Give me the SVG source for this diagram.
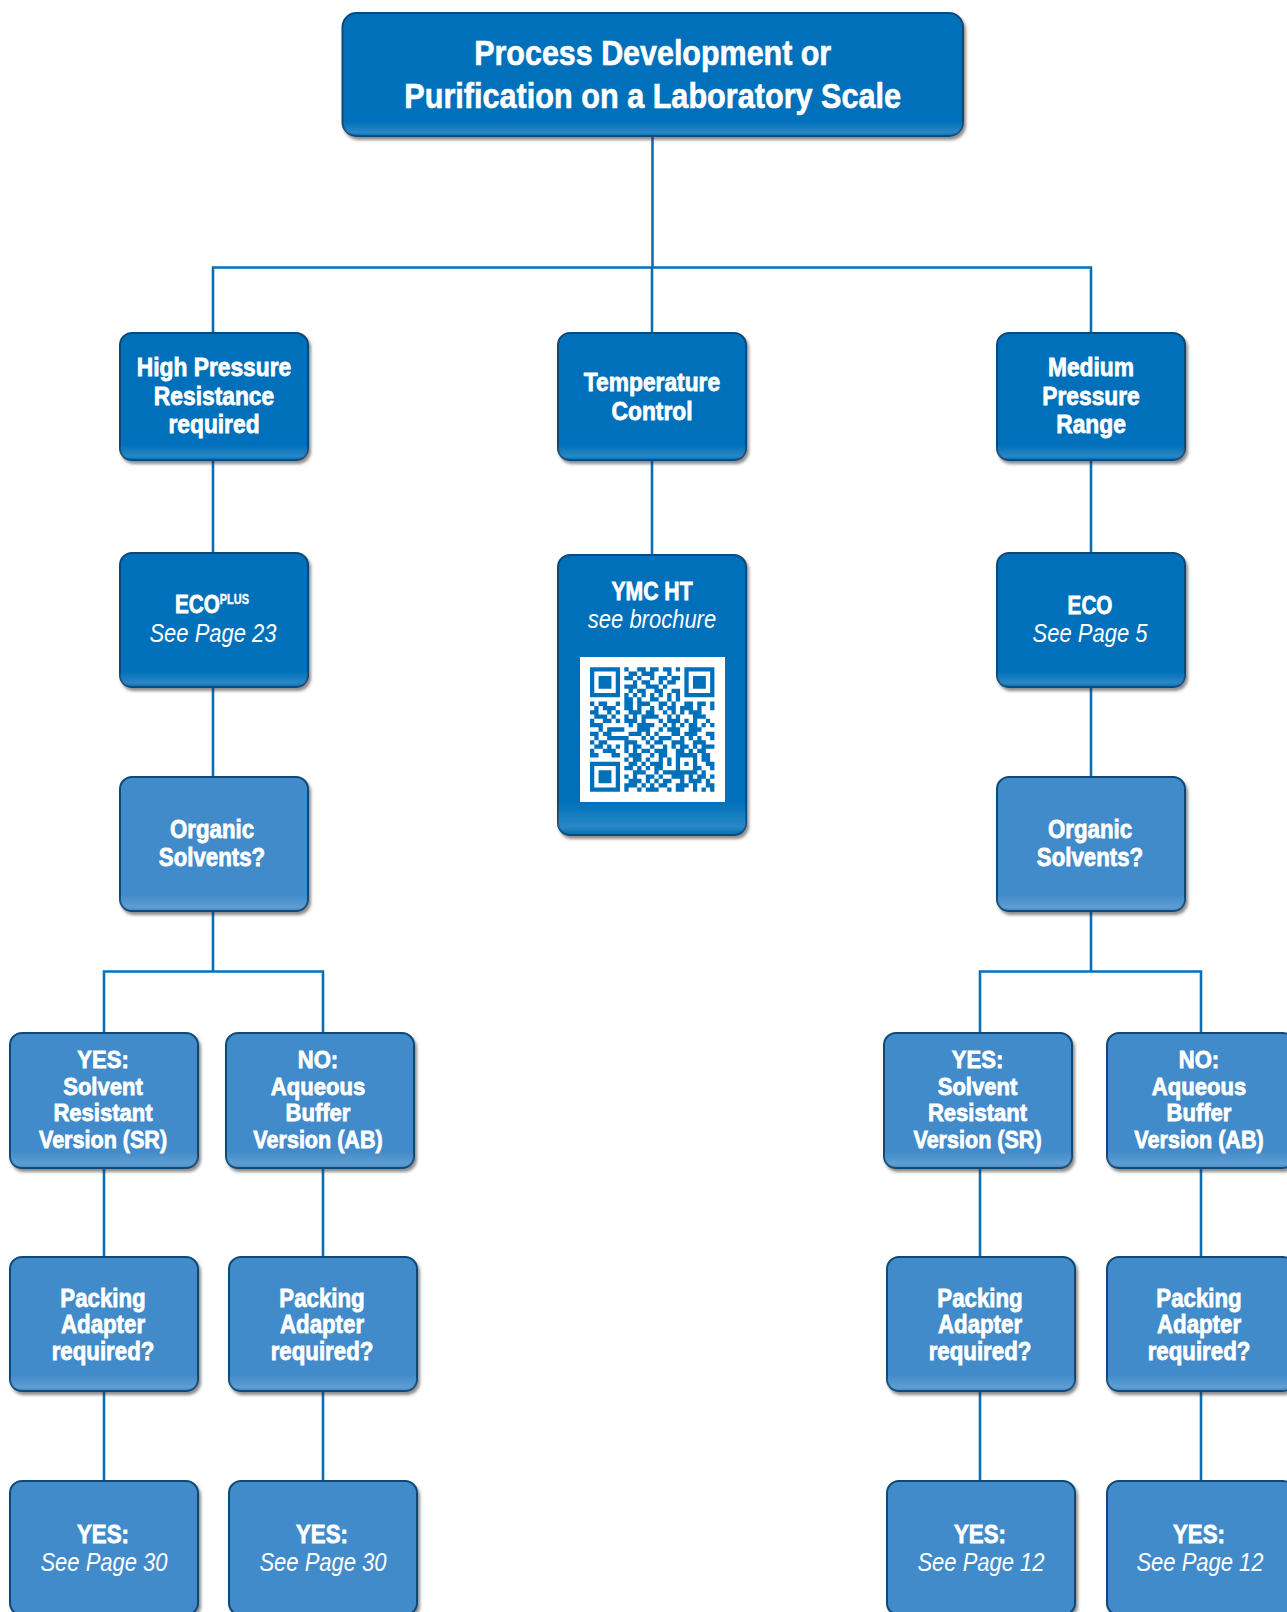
<svg xmlns="http://www.w3.org/2000/svg" width="1287" height="1612" viewBox="0 0 1287 1612">
<defs>
<filter id="sh" x="-5%" y="-5%" width="115%" height="120%">
<feDropShadow dx="2" dy="3" stdDeviation="1.5" flood-color="#333" flood-opacity="0.55"/>
</filter>
<linearGradient id="hl" x1="0" y1="0" x2="0" y2="1">
<stop offset="0.88" stop-color="#fff" stop-opacity="0"/>
<stop offset="0.97" stop-color="#fff" stop-opacity="0.16"/>
<stop offset="1" stop-color="#fff" stop-opacity="0"/>
</linearGradient>
<path id="finder" d="M0 0h7v7h-7zM1 1v5h5v-5zM2 2h3v3h-3z" fill-rule="evenodd"/>
</defs>
<style>
.bx{stroke:#0e4a78;stroke-width:2;filter:url(#sh)}
.dk{fill:#0070BA}
.lt{fill:#428BCA}
.hl{fill:url(#hl);stroke:none}
.t{font-family:"Liberation Sans",Arial,sans-serif;font-weight:bold;font-size:26.5px;fill:#fff;stroke:#fff;stroke-width:0.8;text-anchor:middle}
.s{font-size:24.5px}
.i{font-style:italic;font-weight:normal;font-size:25px;stroke-width:0}
.big{font-size:35px;stroke-width:0.6}
.sup{font-size:14px;stroke-width:0.4}
.ln{fill:none;stroke:#0b6fb8;stroke-width:2.6}
</style>
<rect width="1287" height="1612" fill="#fff"/>

<g id="connectors" class="ln">
<path d="M652.5 137V267.5"/>
<path d="M213 333V267.5H1091V333"/>
<path d="M652 267.5V333"/>
<path d="M213 460V553M652 460V555M1091 460V553"/>
<path d="M213 687V777M1091 687V777"/>
<path d="M213 911V971.5M104 1033V971.5H323V1033"/>
<path d="M1091 911V971.5M980 1033V971.5H1201V1033"/>
<path d="M104 1168V1257M323 1168V1257M980 1168V1257M1201 1168V1257"/>
<path d="M104 1391V1481M323 1391V1481M980 1391V1481M1201 1391V1481"/>
</g>

<g id="n-root">
<rect class="bx dk" x="342.5" y="13" width="620.5" height="123" rx="14"/>
<rect class="hl" x="342.5" y="13" width="620.5" height="123" rx="14"/>
<text class="t big" transform="translate(652.7 0) scale(0.87 1)" x="0" y="65">Process Development or</text>
<text class="t big" transform="translate(652.7 0) scale(0.875 1)" x="0" y="108">Purification on a Laboratory Scale</text>
</g>

<g id="n-high-pressure">
<rect class="bx dk" x="120" y="333" width="188" height="127" rx="12"/>
<rect class="hl" x="120" y="333" width="188" height="127" rx="12"/>
<text class="t" transform="translate(214 0) scale(0.86 1)" x="0" y="376">High Pressure</text>
<text class="t" transform="translate(214 0) scale(0.86 1)" x="0" y="405">Resistance</text>
<text class="t" transform="translate(214 0) scale(0.86 1)" x="0" y="433">required</text>
</g>

<g id="n-temperature">
<rect class="bx dk" x="558" y="333" width="188" height="127" rx="12"/>
<rect class="hl" x="558" y="333" width="188" height="127" rx="12"/>
<text class="t" transform="translate(652 0) scale(0.86 1)" x="0" y="391">Temperature</text>
<text class="t" transform="translate(652 0) scale(0.86 1)" x="0" y="420">Control</text>
</g>

<g id="n-medium-pressure">
<rect class="bx dk" x="997" y="333" width="188" height="127" rx="12"/>
<rect class="hl" x="997" y="333" width="188" height="127" rx="12"/>
<text class="t" transform="translate(1091 0) scale(0.86 1)" x="0" y="376">Medium</text>
<text class="t" transform="translate(1091 0) scale(0.86 1)" x="0" y="405">Pressure</text>
<text class="t" transform="translate(1091 0) scale(0.86 1)" x="0" y="433">Range</text>
</g>

<g id="n-ecoplus">
<rect class="bx dk" x="120" y="553" width="188" height="134" rx="12"/>
<rect class="hl" x="120" y="553" width="188" height="134" rx="12"/>
<text class="t" transform="translate(212 0) scale(0.78 1)" x="0" y="613.5">ECO<tspan class="sup" dy="-9">PLUS</tspan></text>
<text class="t i" transform="translate(213 0) scale(0.88 1)" x="0" y="641.7">See Page 23</text>
</g>

<g id="n-ymc-ht">
<rect class="bx dk" x="558" y="555" width="188" height="280" rx="12"/>
<rect class="hl" x="558" y="555" width="188" height="280" rx="12"/>
<text class="t" transform="translate(652 0) scale(0.8 1)" x="0" y="600">YMC HT</text>
<text class="t i" transform="translate(652 0) scale(0.88 1)" x="0" y="628">see brochure</text>
<rect x="580" y="657" width="145" height="145" fill="#fff"/>
<g fill="#0070BA" transform="translate(590 667.3) scale(4.29)">
<use href="#finder"/>
<use href="#finder" x="22"/>
<use href="#finder" y="22"/>
<path d="M8 0h1v1h-1zM11 0h2v1h-2zM14 0h2v1h-2zM17 0h2v1h-2zM20 0h1v1h-1z
M9 1h2v1h-2zM12 1h3v1h-3zM18 1h1v1h-1z
M8 2h2v1h-2zM11 2h1v1h-1zM14 2h1v1h-1zM16 2h2v1h-2zM19 2h2v1h-2z
M10 3h1v1h-1zM12 3h2v1h-2zM16 3h1v1h-1zM18 3h2v1h-2z
M8 4h3v1h-3zM13 4h3v1h-3zM17 4h1v1h-1z
M9 5h1v1h-1zM11 5h2v1h-2zM15 5h2v1h-2zM19 5h2v1h-2z
M8 6h1v1h-1zM10 6h1v1h-1zM12 6h1v1h-1zM14 6h1v1h-1zM16 6h1v1h-1zM18 6h1v1h-1zM20 6h1v1h-1z
M8 7h2v1h-2zM11 7h1v1h-1zM14 7h2v1h-2zM18 7h1v1h-1zM20 7h1v1h-1z
M0 8h1v1h-1zM2 8h2v1h-2zM6 8h1v1h-1zM8 8h2v1h-2zM11 8h3v1h-3zM16 8h2v1h-2zM19 8h1v1h-1zM22 8h2v1h-2zM25 8h2v1h-2zM28 8h1v1h-1z
M1 9h1v1h-1zM3 9h3v1h-3zM8 9h2v1h-2zM11 9h1v1h-1zM14 9h1v1h-1zM16 9h1v1h-1zM18 9h2v1h-2zM21 9h3v1h-3zM25 9h1v1h-1zM28 9h1v1h-1z
M0 10h2v1h-2zM4 10h1v1h-1zM6 10h1v1h-1zM9 10h3v1h-3zM13 10h2v1h-2zM17 10h1v1h-1zM19 10h1v1h-1zM21 10h1v1h-1zM23 10h3v1h-3z
M1 11h3v1h-3zM5 11h1v1h-1zM8 11h1v1h-1zM10 11h1v1h-1zM12 11h4v1h-4zM18 11h1v1h-1zM20 11h1v1h-1zM24 11h3v1h-3z
M0 12h1v1h-1zM3 12h2v1h-2zM6 12h1v1h-1zM8 12h3v1h-3zM12 12h1v1h-1zM16 12h1v1h-1zM18 12h3v1h-3zM22 12h1v1h-1zM24 12h1v1h-1zM27 12h1v1h-1z
M0 13h3v1h-3zM9 13h1v1h-1zM11 13h4v1h-4zM17 13h1v1h-1zM19 13h1v1h-1zM21 13h1v1h-1zM23 13h2v1h-2zM26 13h1v1h-1zM28 13h1v1h-1z
M2 14h1v1h-1zM4 14h4v1h-4zM11 14h3v1h-3zM16 14h1v1h-1zM18 14h3v1h-3zM23 14h3v1h-3z
M0 15h2v1h-2zM3 15h2v1h-2zM9 15h3v1h-3zM13 15h1v1h-1zM15 15h1v1h-1zM19 15h2v1h-2zM22 15h3v1h-3zM27 15h2v1h-2z
M1 16h1v1h-1zM4 16h5v1h-5zM12 16h1v1h-1zM14 16h1v1h-1zM16 16h3v1h-3zM21 16h1v1h-1zM23 16h1v1h-1zM25 16h1v1h-1zM28 16h1v1h-1z
M0 17h1v1h-1zM2 17h2v1h-2zM8 17h3v1h-3zM13 17h1v1h-1zM15 17h2v1h-2zM19 17h3v1h-3zM24 17h3v1h-3z
M1 18h2v1h-2zM4 18h1v1h-1zM6 18h1v1h-1zM8 18h1v1h-1zM10 18h2v1h-2zM14 18h1v1h-1zM17 18h1v1h-1zM19 18h1v1h-1zM21 18h2v1h-2zM24 18h1v1h-1zM26 18h3v1h-3z
M0 19h1v1h-1zM3 19h3v1h-3zM8 19h1v1h-1zM10 19h1v1h-1zM12 19h2v1h-2zM15 19h3v1h-3zM20 19h2v1h-2zM23 19h1v1h-1zM25 19h2v1h-2z
M0 20h2v1h-2zM5 20h2v1h-2zM9 20h3v1h-3zM14 20h1v1h-1zM16 20h2v1h-2zM20 20h5v1h-5zM26 20h2v1h-2z
M8 21h1v1h-1zM10 21h2v1h-2zM13 21h1v1h-1zM16 21h1v1h-1zM18 21h1v1h-1zM20 21h1v1h-1zM24 21h1v1h-1zM26 21h2v1h-2z
M9 22h2v1h-2zM12 22h1v1h-1zM14 22h3v1h-3zM18 22h1v1h-1zM20 22h1v1h-1zM22 22h1v1h-1zM24 22h1v1h-1zM27 22h2v1h-2z
M8 23h2v1h-2zM11 23h1v1h-1zM13 23h1v1h-1zM15 23h2v1h-2zM20 23h1v1h-1zM24 23h2v1h-2zM28 23h1v1h-1z
M10 24h3v1h-3zM15 24h1v1h-1zM17 24h8v1h-8zM26 24h1v1h-1z
M8 25h1v1h-1zM10 25h1v1h-1zM13 25h2v1h-2zM16 25h1v1h-1zM19 25h3v1h-3zM23 25h1v1h-1zM25 25h2v1h-2zM28 25h1v1h-1z
M9 26h3v1h-3zM13 26h1v1h-1zM15 26h1v1h-1zM17 26h2v1h-2zM21 26h1v1h-1zM23 26h3v1h-3zM27 26h1v1h-1z
M8 27h3v1h-3zM12 27h1v1h-1zM14 27h1v1h-1zM16 27h2v1h-2zM20 27h3v1h-3zM24 27h1v1h-1zM27 27h2v1h-2z
M8 28h1v1h-1zM11 28h1v1h-1zM13 28h3v1h-3zM18 28h1v1h-1zM20 28h2v1h-2zM24 28h1v1h-1zM26 28h1v1h-1zM28 28h1v1h-1z"/>
</g>
</g>

<g id="n-eco">
<rect class="bx dk" x="997" y="553" width="188" height="134" rx="12"/>
<rect class="hl" x="997" y="553" width="188" height="134" rx="12"/>
<text class="t" transform="translate(1090 0) scale(0.78 1)" x="0" y="614">ECO</text>
<text class="t i" transform="translate(1090 0) scale(0.88 1)" x="0" y="641.7">See Page 5</text>
</g>

<g id="n-organic-left">
<rect class="bx lt" x="120" y="777" width="188" height="134" rx="12"/>
<rect class="hl" x="120" y="777" width="188" height="134" rx="12"/>
<text class="t" transform="translate(212 0) scale(0.84 1)" x="0" y="838">Organic</text>
<text class="t" transform="translate(212 0) scale(0.84 1)" x="0" y="866">Solvents?</text>
</g>

<g id="n-organic-right">
<rect class="bx lt" x="997" y="777" width="188" height="134" rx="12"/>
<rect class="hl" x="997" y="777" width="188" height="134" rx="12"/>
<text class="t" transform="translate(1090 0) scale(0.84 1)" x="0" y="838">Organic</text>
<text class="t" transform="translate(1090 0) scale(0.84 1)" x="0" y="866">Solvents?</text>
</g>

<g id="n-sr-left">
<rect class="bx lt" x="10" y="1033" width="188" height="135" rx="12"/>
<rect class="hl" x="10" y="1033" width="188" height="135" rx="12"/>
<text class="t s" transform="translate(103 0) scale(0.9 1)" x="0" y="1068.5">YES:</text>
<text class="t s" transform="translate(103 0) scale(0.9 1)" x="0" y="1095">Solvent</text>
<text class="t s" transform="translate(103 0) scale(0.9 1)" x="0" y="1121.5">Resistant</text>
<text class="t s" transform="translate(103 0) scale(0.88 1)" x="0" y="1148">Version (SR)</text>
</g>

<g id="n-ab-left">
<rect class="bx lt" x="226" y="1033" width="188" height="135" rx="12"/>
<rect class="hl" x="226" y="1033" width="188" height="135" rx="12"/>
<text class="t s" transform="translate(318 0) scale(0.9 1)" x="0" y="1068.5">NO:</text>
<text class="t s" transform="translate(318 0) scale(0.9 1)" x="0" y="1095">Aqueous</text>
<text class="t s" transform="translate(318 0) scale(0.9 1)" x="0" y="1121.5">Buffer</text>
<text class="t s" transform="translate(318 0) scale(0.88 1)" x="0" y="1148">Version (AB)</text>
</g>

<g id="n-sr-right">
<rect class="bx lt" x="884" y="1033" width="188" height="135" rx="12"/>
<rect class="hl" x="884" y="1033" width="188" height="135" rx="12"/>
<text class="t s" transform="translate(977.5 0) scale(0.9 1)" x="0" y="1068.5">YES:</text>
<text class="t s" transform="translate(977.5 0) scale(0.9 1)" x="0" y="1095">Solvent</text>
<text class="t s" transform="translate(977.5 0) scale(0.9 1)" x="0" y="1121.5">Resistant</text>
<text class="t s" transform="translate(977.5 0) scale(0.88 1)" x="0" y="1148">Version (SR)</text>
</g>

<g id="n-ab-right">
<rect class="bx lt" x="1107" y="1033" width="188" height="135" rx="12"/>
<rect class="hl" x="1107" y="1033" width="188" height="135" rx="12"/>
<text class="t s" transform="translate(1199 0) scale(0.9 1)" x="0" y="1068.5">NO:</text>
<text class="t s" transform="translate(1199 0) scale(0.9 1)" x="0" y="1095">Aqueous</text>
<text class="t s" transform="translate(1199 0) scale(0.9 1)" x="0" y="1121.5">Buffer</text>
<text class="t s" transform="translate(1199 0) scale(0.88 1)" x="0" y="1148">Version (AB)</text>
</g>

<g id="n-packing-1">
<rect class="bx lt" x="10" y="1257" width="188" height="134" rx="12"/>
<rect class="hl" x="10" y="1257" width="188" height="134" rx="12"/>
<text class="t" transform="translate(103 0) scale(0.84 1)" x="0" y="1307">Packing</text>
<text class="t" transform="translate(103 0) scale(0.84 1)" x="0" y="1333.5">Adapter</text>
<text class="t" transform="translate(103 0) scale(0.84 1)" x="0" y="1360">required?</text>
</g>

<g id="n-packing-2">
<rect class="bx lt" x="229" y="1257" width="188" height="134" rx="12"/>
<rect class="hl" x="229" y="1257" width="188" height="134" rx="12"/>
<text class="t" transform="translate(322 0) scale(0.84 1)" x="0" y="1307">Packing</text>
<text class="t" transform="translate(322 0) scale(0.84 1)" x="0" y="1333.5">Adapter</text>
<text class="t" transform="translate(322 0) scale(0.84 1)" x="0" y="1360">required?</text>
</g>

<g id="n-packing-3">
<rect class="bx lt" x="887" y="1257" width="188" height="134" rx="12"/>
<rect class="hl" x="887" y="1257" width="188" height="134" rx="12"/>
<text class="t" transform="translate(980 0) scale(0.84 1)" x="0" y="1307">Packing</text>
<text class="t" transform="translate(980 0) scale(0.84 1)" x="0" y="1333.5">Adapter</text>
<text class="t" transform="translate(980 0) scale(0.84 1)" x="0" y="1360">required?</text>
</g>

<g id="n-packing-4">
<rect class="bx lt" x="1107" y="1257" width="188" height="134" rx="12"/>
<rect class="hl" x="1107" y="1257" width="188" height="134" rx="12"/>
<text class="t" transform="translate(1199 0) scale(0.84 1)" x="0" y="1307">Packing</text>
<text class="t" transform="translate(1199 0) scale(0.84 1)" x="0" y="1333.5">Adapter</text>
<text class="t" transform="translate(1199 0) scale(0.84 1)" x="0" y="1360">required?</text>
</g>

<g id="n-yes-30-a">
<rect class="bx lt" x="10" y="1481" width="188" height="134" rx="12"/>
<text class="t" transform="translate(103 0) scale(0.84 1)" x="0" y="1543.5">YES:</text>
<text class="t i" transform="translate(104 0) scale(0.88 1)" x="0" y="1571.5">See Page 30</text>
</g>

<g id="n-yes-30-b">
<rect class="bx lt" x="229" y="1481" width="188" height="134" rx="12"/>
<text class="t" transform="translate(322 0) scale(0.84 1)" x="0" y="1543.5">YES:</text>
<text class="t i" transform="translate(323 0) scale(0.88 1)" x="0" y="1571.5">See Page 30</text>
</g>

<g id="n-yes-12-a">
<rect class="bx lt" x="887" y="1481" width="188" height="134" rx="12"/>
<text class="t" transform="translate(980 0) scale(0.84 1)" x="0" y="1543.5">YES:</text>
<text class="t i" transform="translate(981 0) scale(0.88 1)" x="0" y="1571.5">See Page 12</text>
</g>

<g id="n-yes-12-b">
<rect class="bx lt" x="1107" y="1481" width="188" height="134" rx="12"/>
<text class="t" transform="translate(1199 0) scale(0.84 1)" x="0" y="1543.5">YES:</text>
<text class="t i" transform="translate(1200 0) scale(0.88 1)" x="0" y="1571.5">See Page 12</text>
</g>
</svg>
